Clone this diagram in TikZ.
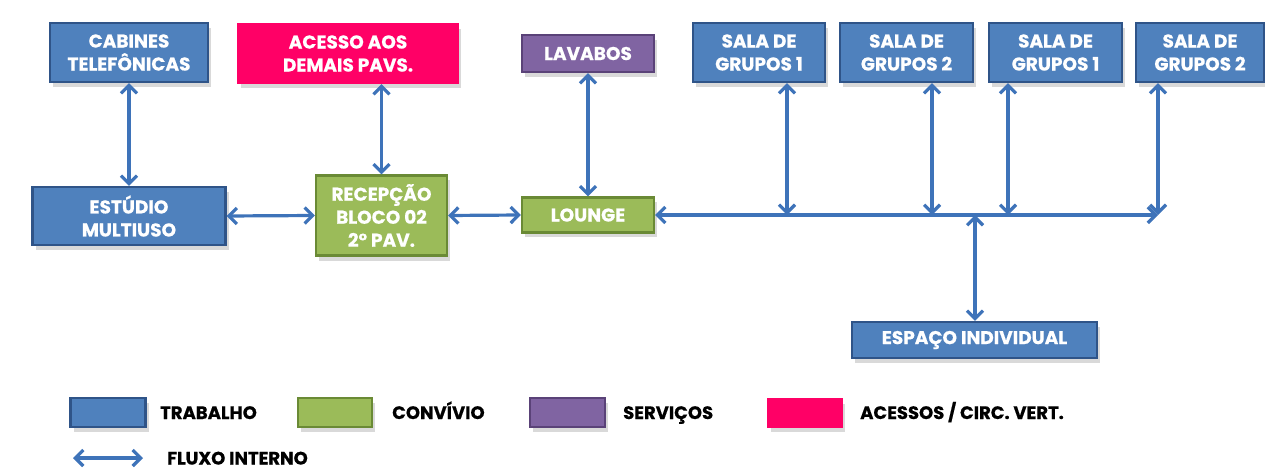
\documentclass[tikz,border=0pt]{standalone}
\usepackage{fontspec}
\setmainfont{Poppins}[BoldFeatures={FakeBold=0.6}]
\usetikzlibrary{arrows.meta,shadows}
\definecolor{tblue}{HTML}{4F81BD}
\definecolor{tblueb}{HTML}{2F5488}
\definecolor{tgreen}{HTML}{9BBB59}
\definecolor{tgreenb}{HTML}{6A8A35}
\definecolor{tpurple}{HTML}{8064A2}
\definecolor{tpurpleb}{HTML}{5A4278}
\definecolor{tpink}{HTML}{FF0066}
\definecolor{arrowc}{HTML}{3E73B9}
\definecolor{shade}{HTML}{D9D9D9}
\begin{document}
\begin{tikzpicture}[x=1pt,y=-1pt,
  box/.style={draw,line width=2.2pt,inner sep=0pt,align=center,text=white,
    font=\fontsize{18.5}{23}\selectfont\bfseries,
    drop shadow={shadow xshift=3pt,shadow yshift=-5pt,fill=shade,draw=none,opacity=1}},
  work/.style={box,fill=tblue,draw=tblueb},
  social/.style={box,fill=tgreen,draw=tgreenb},
  service/.style={box,fill=tpurple,draw=tpurpleb},
  access/.style={box,fill=tpink,draw=tpink},
  flow/.style={draw=arrowc,line width=3.2pt,{Straight Barb[length=8pt,width=16pt]}-{Straight Barb[length=8pt,width=16pt]}},
  legtext/.style={anchor=base west,inner sep=0pt,font=\fontsize{18}{20}\selectfont\bfseries,text=black}
]
\useasboundingbox (0,0) rectangle (1265,470);

% boxes
\node[work,minimum width=158pt,minimum height=59pt] (cab) at (129,52.5) {CABINES\\TELEFÔNICAS};
\node[access,minimum width=220pt,minimum height=59pt] (ace) at (348,53.5) {ACESSO AOS\\DEMAIS PAVS.};
\node[work,minimum width=193pt,minimum height=58pt] (est) at (129,216) {ESTÚDIO\\MULTIUSO};
\node[social,minimum width=131pt,minimum height=80pt] (rec) at (381.5,215.5) {RECEPÇÃO\\BLOCO 02\\2° PAV.};
\node[service,minimum width=132pt,minimum height=37pt] (lav) at (588,53.5) {LAVABOS};
\node[social,minimum width=132pt,minimum height=35pt] (lou) at (588,215) {LOUNGE};
\node[work,minimum width=132pt,minimum height=59pt] (s1) at (759,52.5) {SALA DE\\GRUPOS 1};
\node[work,minimum width=133pt,minimum height=59pt] (s2) at (906.5,52.5) {SALA DE\\GRUPOS 2};
\node[work,minimum width=133pt,minimum height=59pt] (s3) at (1055.5,52.5) {SALA DE\\GRUPOS 1};
\node[work,minimum width=128pt,minimum height=59pt] (s4) at (1200,52.5) {SALA DE\\GRUPOS 2};
\node[work,minimum width=245pt,minimum height=36pt] (esp) at (974.5,340) {ESPAÇO INDIVIDUAL};

% connector positions
\coordinate (x1) at (787,215);
\coordinate (x2) at (932,215);
\coordinate (x3) at (1008,215);
\coordinate (x4) at (1158,215);
\coordinate (xe) at (975,215);

% connectors
\draw[flow] (cab.south) -- (est.north);
\draw[flow] (ace.south -| rec.north) -- (rec.north);
\draw[flow] (est.east) -- (rec.west);
\draw[flow] (rec.east) -- (lou.west);
\draw[flow] (lav.south) -- (lou.north);
\draw[flow] (lou.east) -- (x4);
\draw[flow] (s1.south -| x1) -- (x1);
\draw[flow] (s2.south -| x2) -- (x2);
\draw[flow] (s3.south -| x3) -- (x3);
\draw[flow] (s4.south -| x4) -- (x4);
\draw[flow] (xe) -- (esp.north -| xe);

% legend
\node[work,minimum width=75pt,minimum height=29pt] (lg1) at (108,412.5) {};
\node[legtext] (lt1) at (160,419) {TRABALHO};
\node[social,minimum width=74pt,minimum height=29pt] (lg2) at (335,412.5) {};
\node[legtext] (lt2) at (392,419) {CONVÍVIO};
\node[service,minimum width=75pt,minimum height=29pt] (lg3) at (567.5,412.5) {};
\node[legtext] (lt3) at (623,419) {SERVIÇOS};
\node[access,minimum width=74pt,minimum height=28pt] (lg4) at (805,413) {};
\node[legtext] (lt4) at (860,419) {ACESSOS / CIRC. VERT.};
\coordinate (la1) at (73,458);
\coordinate (la2) at (143,458);
\draw[flow] (la1) -- (la2);
\node[legtext] (lt5) at (167,464.5) {FLUXO INTERNO};
\end{tikzpicture}
\end{document}
